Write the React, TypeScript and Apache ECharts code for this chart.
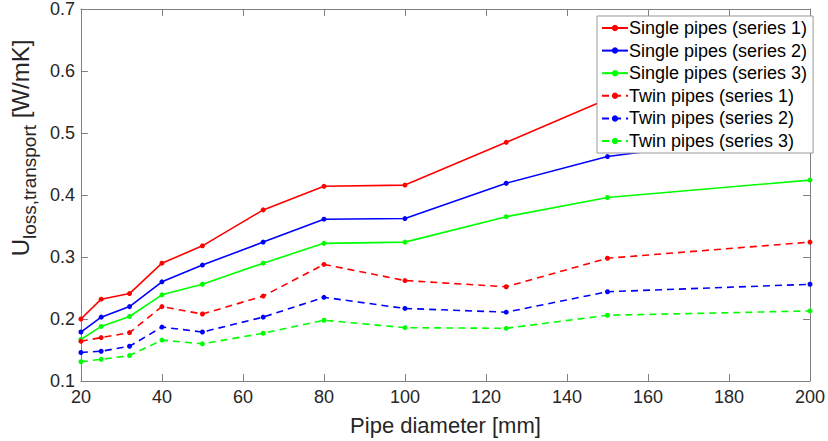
import React, { useEffect, useRef } from "react";
import * as echarts from "echarts";

const diameters = [20, 25, 32, 40, 50, 65, 80, 100, 125, 150, 200];
const single1 = [0.2, 0.232, 0.241, 0.29, 0.318, 0.376, 0.414, 0.416, 0.485, 0.555, 0.619];
const single2 = [0.179, 0.203, 0.22, 0.26, 0.287, 0.324, 0.361, 0.362, 0.419, 0.462, 0.504];
const single3 = [0.167, 0.188, 0.204, 0.239, 0.256, 0.29, 0.322, 0.324, 0.365, 0.396, 0.424];
const twin1 = [0.164, 0.17, 0.178, 0.22, 0.208, 0.237, 0.288, 0.262, 0.252, 0.298, 0.324];
const twin2 = [0.146, 0.148, 0.156, 0.187, 0.179, 0.203, 0.235, 0.217, 0.211, 0.244, 0.256];
const twin3 = [0.131, 0.135, 0.141, 0.166, 0.16, 0.177, 0.198, 0.186, 0.185, 0.206, 0.213];

const seriesNames = [
  "Single pipes (series 1)",
  "Single pipes (series 2)",
  "Single pipes (series 3)",
  "Twin pipes (series 1)",
  "Twin pipes (series 2)",
  "Twin pipes (series 3)",
];
const seriesData = [single1, single2, single3, twin1, twin2, twin3];
const colors = ["#ff0000", "#0000ff", "#00ff00", "#ff0000", "#0000ff", "#00ff00"];

const FONT = "'Liberation Sans', Arial, sans-serif";
const TXT = "#262626";
const AX = "#808080";

export default function App() {
  const ref = useRef<HTMLDivElement>(null);
  useEffect(() => {
    document.body.style.margin = "0";
    if (!ref.current) return;
    const chart = echarts.init(ref.current, undefined, { renderer: "svg" });
    const axisCommon = {
      axisLine: { show: true, lineStyle: { color: AX, width: 1 } },
      axisTick: { show: true, inside: true, length: 7, lineStyle: { color: AX } },
      splitLine: { show: false },
    };
    chart.setOption({
      animation: false,
      backgroundColor: "#ffffff",
      textStyle: { fontFamily: FONT },
      grid: { left: 78, right: 18, top: 9, bottom: 60, containLabel: false },
      xAxis: [
        {
          type: "value",
          min: 20,
          max: 200,
          interval: 20,
          ...axisCommon,
          axisLabel: { color: TXT, fontSize: 18, fontFamily: FONT, margin: 7 },
          name: "Pipe diameter [mm]",
          nameLocation: "middle",
          nameGap: 33,
          nameTextStyle: { color: TXT, fontSize: 22, fontFamily: FONT },
        },
        {
          type: "value",
          position: "top",
          min: 20,
          max: 200,
          interval: 20,
          ...axisCommon,
          axisLabel: { show: false },
        },
      ],
      yAxis: [
        {
          type: "value",
          min: 0.1,
          max: 0.7,
          interval: 0.1,
          ...axisCommon,
          axisLabel: {
            color: TXT,
            fontSize: 18,
            fontFamily: FONT,
            margin: 6,
            formatter: (v: number) => v.toFixed(1),
          },
          name: "{a|U}{b|loss,transport}{a| [W/mK]}",
          nameLocation: "middle",
          nameGap: 44,
          nameTextStyle: {
            color: TXT,
            fontFamily: FONT,
            padding: [0, 0, 0, 94],
            rich: {
              a: { fontSize: 24, color: TXT, fontFamily: FONT, verticalAlign: "bottom", lineHeight: 27 },
              b: { fontSize: 19, color: TXT, fontFamily: FONT, verticalAlign: "bottom", lineHeight: 27, padding: [0, 0, -7, 0] },
            },
          },
        },
        {
          type: "value",
          position: "right",
          min: 0.1,
          max: 0.7,
          interval: 0.1,
          ...axisCommon,
          axisLabel: { show: false },
        },
      ],
      legend: {
        orient: "vertical",
        left: 597,
        top: 16,
        padding: [3, 6, 3, 4],
        itemWidth: 26,
        itemHeight: 8,
        itemGap: 4.6,
        borderColor: "#999999",
        borderWidth: 1,
        backgroundColor: "#ffffff",
        borderRadius: 0,
        textStyle: { color: "#000000", fontSize: 18, fontFamily: FONT, padding: [0, 0, 0, -4] },
        data: seriesNames,
      },
      series: seriesData.map((d, i) => ({
        name: seriesNames[i],
        type: "line",
        data: diameters.map((x, j) => [x, d[j]]),
        symbol: "circle",
        symbolSize: 5,
        showSymbol: true,
        color: colors[i],
        itemStyle: { color: colors[i] },
        lineStyle: {
          color: colors[i],
          width: 1.6,
          type: i < 3 ? "solid" : [7, 5],
        },
        z: 2,
      })),
    });
    return () => chart.dispose();
  }, []);
  return <div ref={ref} style={{ width: 828, height: 441 }} />;
}
